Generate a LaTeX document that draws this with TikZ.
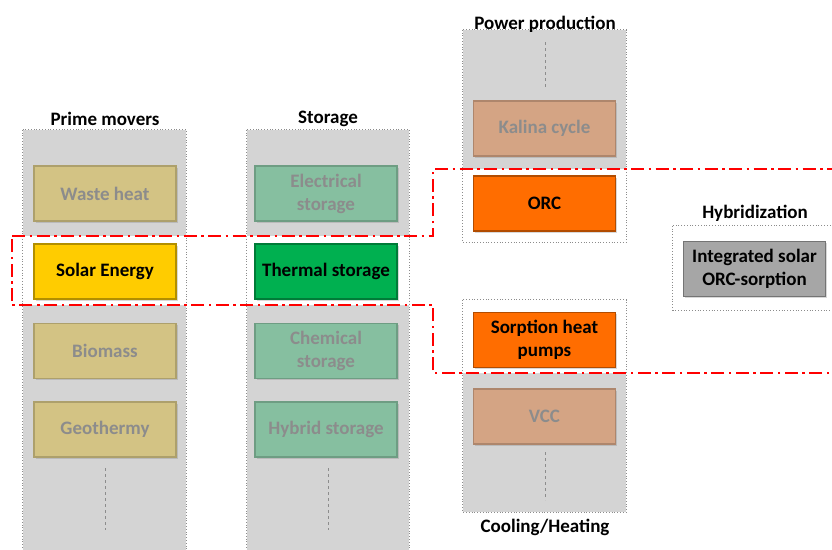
\documentclass[tikz,border=0pt]{standalone}
\usepackage{fontspec}
\setmainfont{Carlito}
\usetikzlibrary{shadows}

\definecolor{colgray}{HTML}{D4D4D4}
\definecolor{colline}{HTML}{8C8C8C}
\definecolor{fadetext}{HTML}{8C8C8C}
\definecolor{solar}{HTML}{FFCC00}
\definecolor{therm}{HTML}{00B050}
\definecolor{orc}{HTML}{FF6D00}
\definecolor{fadesolar}{HTML}{D3C384}
\definecolor{fadetherm}{HTML}{86BFA0}
\definecolor{fadeorc}{HTML}{D4A484}
\definecolor{integ}{HTML}{A6A6A6}
\definecolor{hired}{HTML}{FF0000}

\tikzset{
  column/.style={fill=colgray, inner sep=0pt},
  colborder/.style={draw=colline, dotted, line width=0.8pt},
  title/.style={font=\bfseries\fontsize{19}{22}\selectfont},
  box/.style={minimum width=142pt, minimum height=55pt, inner sep=2pt, align=center,
    font=\bfseries\fontsize{19}{23}\selectfont, line width=1.2pt,
    drop shadow={shadow xshift=1.5pt, shadow yshift=-1.5pt, opacity=0.3}},
  faded/.style={box, fill=#1, draw=#1!82!black, text=fadetext},
  active/.style={box, fill=#1, draw=#1!70!black, text=black},
  ellipsis/.style={draw=colline, dashed, line width=0.6pt},
  highlight/.style={draw=hired, line width=2.5pt, dash pattern=on 13pt off 4.5pt on 2.5pt off 4.5pt}
}

\begin{document}
\begin{tikzpicture}[x=1pt, y=-1pt]
  \useasboundingbox (0,0) rectangle (832,549);
  \clip (0,0) rectangle (832,549);

  \node[column, minimum width=163pt, minimum height=430pt] (pm) at (104.5,345) {};
  \node[column, minimum width=162pt, minimum height=430pt] (st) at (328,345) {};
  \node[column, minimum width=163pt, minimum height=212pt] (pp) at (544.5,136) {};
  \node[column, minimum width=163pt, minimum height=212pt] (ch) at (544.5,406) {};
  \node[inner sep=0pt, minimum width=169pt, minimum height=84pt] (hy) at (757.5,268) {};

  \fill[white] (12,236) -- (433,236) -- (433,169) -- (845,169) -- (845,373)
    -- (433,373) -- (433,305) -- (12,305) -- cycle;

  \foreach \c in {pm,st,pp,ch,hy}
    \draw[colborder] (\c.north west) rectangle (\c.south east);

  \node[title] (pmtitle) at (105,119) {Prime movers};
  \node[title] (sttitle) at (328,119) {Storage};
  \node[title] (pptitle) at (545,24) {Power production};
  \node[title] (chtitle) at (545,527) {Cooling/Heating};
  \node[title] (hytitle) at (755,213) {Hybridization};

  \node[faded=fadesolar] (waste) at (105,193.5) {Waste heat};
  \node[active=solar] (solar) at (105,271.5) {Solar Energy};
  \node[faded=fadesolar] (bio) at (105,351) {Biomass};
  \node[faded=fadesolar] (geo) at (105,429.5) {Geothermy};

  \node[faded=fadetherm] (elec) at (326,193.5) {Electrical\\storage};
  \node[active=therm] (thermal) at (326,271.5) {Thermal storage};
  \node[faded=fadetherm] (chem) at (326,351) {Chemical\\storage};
  \node[faded=fadetherm] (hybrid) at (326,429.5) {Hybrid storage};

  \node[faded=fadeorc] (kalina) at (544.5,128.5) {Kalina cycle};
  \node[active=orc] (orcbox) at (544.5,203.5) {ORC};
  \node[active=orc] (sorp) at (544.5,340) {Sorption heat\\pumps};
  \node[faded=fadeorc] (vcc) at (544.5,416.5) {VCC};

  \node[active=integ] (intsol) at (754.5,269) {Integrated solar\\ORC-sorption};

  \draw[ellipsis] (105,468) -- (105,530);
  \draw[ellipsis] (328,468) -- (328,530);
  \draw[ellipsis] (545,42) -- (545,88);
  \draw[ellipsis] (545,452) -- (545,500);

  \draw[highlight] (12,236) -- (433,236) -- (433,169) -- (845,169) -- (845,373)
    -- (433,373) -- (433,305) -- (12,305) -- cycle;
\end{tikzpicture}
\end{document}
